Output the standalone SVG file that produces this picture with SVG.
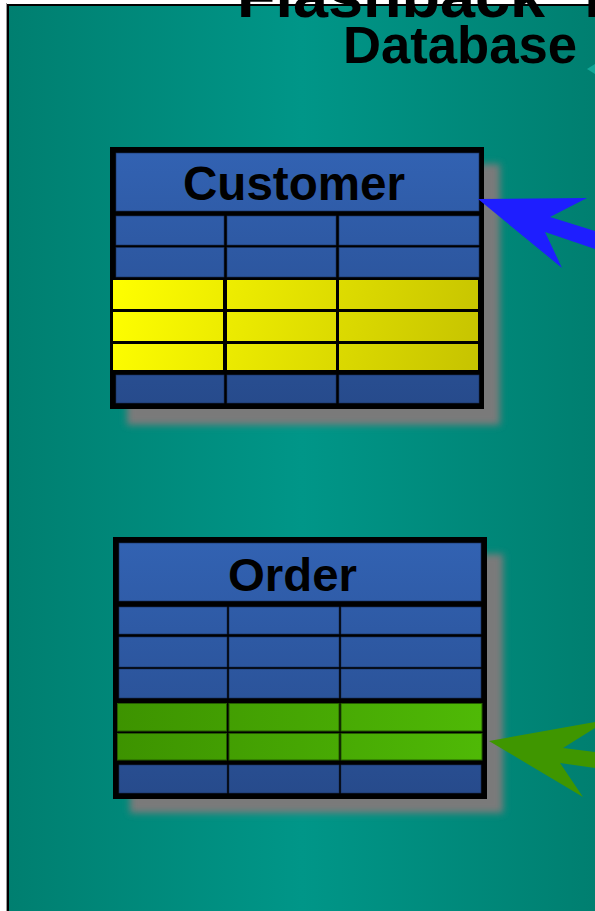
<svg xmlns="http://www.w3.org/2000/svg" width="595" height="911" viewBox="0 0 595 911">
<defs>
<linearGradient id="bg" x1="9" y1="0" x2="595" y2="0" gradientUnits="userSpaceOnUse">
<stop offset="0" stop-color="#007f70"/>
<stop offset="0.5" stop-color="#009688"/>
<stop offset="1" stop-color="#007f70"/>
</linearGradient>
<linearGradient id="blueC" x1="0" y1="153" x2="0" y2="403" gradientUnits="userSpaceOnUse">
<stop offset="0" stop-color="#3262b2"/>
<stop offset="1" stop-color="#274b8c"/>
</linearGradient>
<linearGradient id="blueO" x1="0" y1="543" x2="0" y2="793" gradientUnits="userSpaceOnUse">
<stop offset="0" stop-color="#3262b2"/>
<stop offset="1" stop-color="#274b8c"/>
</linearGradient>
<linearGradient id="yel" x1="112" y1="279" x2="479" y2="371" gradientUnits="userSpaceOnUse">
<stop offset="0" stop-color="#ffff00"/>
<stop offset="1" stop-color="#c6c300"/>
</linearGradient>
<linearGradient id="grn" x1="117" y1="0" x2="482" y2="0" gradientUnits="userSpaceOnUse">
<stop offset="0" stop-color="#3d9300"/>
<stop offset="1" stop-color="#4fb906"/>
</linearGradient>
<filter id="blur" x="-10%" y="-10%" width="120%" height="120%">
<feGaussianBlur stdDeviation="3.5"/>
</filter>
<style>
.title{font-family:"Liberation Sans",Arial,sans-serif;font-weight:bold;fill:#000}
.shadow{fill:#7a7a7a;filter:url(#blur)}
.frame{fill:#000}
.bc{stroke:#1a2f5a;stroke-width:0.6}
.yc{fill:url(#yel);stroke:#000;stroke-width:1}
.gc{fill:url(#grn);stroke:#245c00;stroke-width:1}
</style>
</defs>

<rect x="8" y="5" width="600" height="920" fill="url(#bg)" stroke="#000" stroke-width="2"/>
<line x1="6.5" y1="3" x2="6.5" y2="911" stroke="#999" stroke-width="1"/>

<text class="title" x="237" y="17" font-size="62" textLength="308" lengthAdjust="spacingAndGlyphs">Flashback</text>
<text class="title" x="574" y="17" font-size="62">Table</text>
<text class="title" x="343" y="63" font-size="51" textLength="234" lengthAdjust="spacingAndGlyphs">Database</text>

<g id="customer">
<rect class="shadow" x="127" y="164" width="373" height="261"/>
<rect class="frame" x="110" y="147" width="374" height="262"/>
<rect x="116" y="153" width="363" height="58" fill="url(#blueC)" class="bc"/>
<g fill="url(#blueC)" class="bc">
<rect x="116" y="216" width="108" height="29"/><rect x="227" y="216" width="109" height="29"/><rect x="339" y="216" width="140" height="29"/>
<rect x="116" y="247.5" width="108" height="29.5"/><rect x="227" y="247.5" width="109" height="29.5"/><rect x="339" y="247.5" width="140" height="29.5"/>
<rect x="116" y="375" width="108" height="28"/><rect x="227" y="375" width="109" height="28"/><rect x="339" y="375" width="140" height="28"/>
</g>
<rect x="112" y="279" width="367" height="92" fill="#000"/>
<g>
<rect class="yc" x="112.5" y="279.5" width="111" height="30"/><rect class="yc" x="226.5" y="279.5" width="110" height="30"/><rect class="yc" x="338.5" y="279.5" width="140" height="30"/>
<rect class="yc" x="112.5" y="311.5" width="111" height="30"/><rect class="yc" x="226.5" y="311.5" width="110" height="30"/><rect class="yc" x="338.5" y="311.5" width="140" height="30"/>
<rect class="yc" x="112.5" y="343.5" width="111" height="27"/><rect class="yc" x="226.5" y="343.5" width="110" height="27"/><rect class="yc" x="338.5" y="343.5" width="140" height="27"/>
</g>
<text class="title" x="183" y="200" font-size="48" textLength="222" lengthAdjust="spacingAndGlyphs">Customer</text>
</g>

<g id="order">
<rect class="shadow" x="130" y="554" width="373" height="259"/>
<rect class="frame" x="113" y="537" width="374" height="262"/>
<rect x="119" y="543" width="362" height="58" fill="url(#blueO)" class="bc"/>
<g fill="url(#blueO)" class="bc">
<rect x="119" y="607" width="108" height="27"/><rect x="229" y="607" width="110" height="27"/><rect x="341" y="607" width="140" height="27"/>
<rect x="119" y="637" width="108" height="30"/><rect x="229" y="637" width="110" height="30"/><rect x="341" y="637" width="140" height="30"/>
<rect x="119" y="669" width="108" height="29"/><rect x="229" y="669" width="110" height="29"/><rect x="341" y="669" width="140" height="29"/>
<rect x="119" y="765" width="108" height="28"/><rect x="229" y="765" width="110" height="28"/><rect x="341" y="765" width="140" height="28"/>
</g>
<g>
<rect class="gc" x="117.5" y="703.5" width="109" height="27.5"/><rect class="gc" x="229" y="703.5" width="110" height="27.5"/><rect class="gc" x="341" y="703.5" width="141" height="27.5"/>
<rect class="gc" x="117.5" y="733.5" width="109" height="26.5"/><rect class="gc" x="229" y="733.5" width="110" height="26.5"/><rect class="gc" x="341" y="733.5" width="141" height="26.5"/>
</g>
<text class="title" x="228" y="591" font-size="47" textLength="129" lengthAdjust="spacingAndGlyphs">Order</text>
</g>

<g id="connectors">
<polygon points="478,199 587,198 550,217 595,231 595,249 545,232 562,268" fill="#1e1eff"/>
<polygon points="489,741 595,722 595,728 563,748 595,752 595,768 560,763 583,797" fill="#3f9600"/>
<polygon points="587,69 595,64 595,74" fill="#12a898"/>
</g>
</svg>
